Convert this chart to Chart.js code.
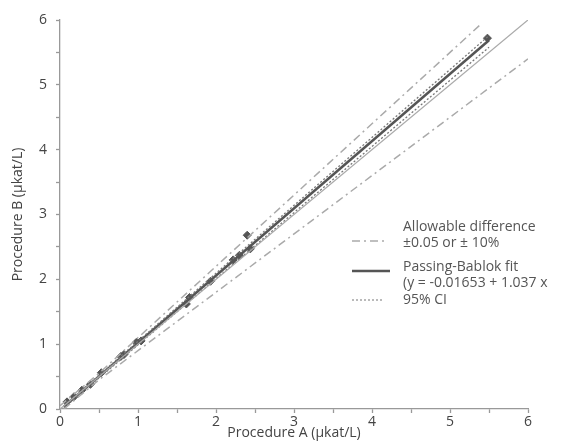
<!DOCTYPE html>
<html>
<head>
<meta charset="utf-8">
<script src="https://cdn.jsdelivr.net/npm/chart.js@4/dist/chart.umd.min.js"></script>
<style>
  html, body { margin: 0; padding: 0; background: #fff; }
  #wrap { width: 569px; height: 441px; }
</style>
</head>
<body>
<div id="wrap"><canvas id="myChart" width="569" height="441"></canvas></div>
<script>
const procA = [0.09, 0.18, 0.28, 0.39, 0.53, 0.78, 0.82, 0.98, 1.04, 1.62, 1.66, 1.93, 2.22, 2.30, 2.40, 2.44, 5.48];
const procB = [0.11, 0.19, 0.29, 0.38, 0.56, 0.81, 0.84, 1.03, 1.05, 1.62, 1.72, 1.97, 2.30, 2.37, 2.68, 2.47, 5.72];

// line end points (x, y)
const identityX = [0, 6];
const identityY = [0, 6];
const upperAllowX = [0, 0.5, 5.4];
const upperAllowY = [0.05, 0.55, 5.94];
const lowerAllowX = [0.05, 0.5, 6];
const lowerAllowY = [0, 0.45, 5.4];
const fitX = [0.05, 5.5];
const fitY = [0.035, 5.687];
const ciUpperX = [0.05, 5.5];
const ciUpperY = [0.05, 5.76];
const ciLowerX = [0.05, 5.5];
const ciLowerY = [0.02, 5.58];

const legendLines = [
  { text: ['Allowable difference', '\u00b10.05 or \u00b1 10%'], dash: [8, 4, 2, 4], color: '#aaa', width: 1.5 },
  { text: ['Passing-Bablok fit', '(y = -0.01653 + 1.037 x'], dash: [], color: '#555', width: 2.5 },
  { text: ['95% CI'], dash: [2, 2], color: '#777', width: 1.2 }
];

const pts = (xs, ys) => xs.map((x, i) => ({ x: x, y: ys[i] }));
const FONT = "'Open Sans', 'Noto Sans', sans-serif";

//--legend drawn on the canvas--//
const legendPlugin = {
  id: 'sideLegend',
  afterDraw(chart) {
    const ctx = chart.ctx;
    ctx.save();
    ctx.font = '14px ' + FONT;
    ctx.fillStyle = '#555';
    ctx.textBaseline = 'middle';
    const tops = [227, 267, 300];
    legendLines.forEach((item, i) => {
      const y0 = tops[i];
      item.text.forEach((t, j) => ctx.fillText(t, 403, y0 + j * 16));
      const ly = item.text.length > 1 ? (i === 0 ? y0 + 14 : y0 + 4) : y0;
      ctx.beginPath();
      ctx.setLineDash(item.dash);
      ctx.strokeStyle = item.color;
      ctx.lineWidth = item.width;
      ctx.moveTo(352, ly);
      ctx.lineTo(i === 1 ? 390 : 384, ly);
      ctx.stroke();
    });
    ctx.restore();
  }
};

const lineSet = (label, data, color, width, dash) => ({
  type: 'line',
  label: label,
  data: data,
  borderColor: color,
  borderWidth: width,
  borderDash: dash,
  pointRadius: 0,
  fill: false,
  tension: 0
});

const tickLabel = v => (Math.abs(v - Math.round(v)) < 1e-6 ? String(Math.round(v)) : '');

new Chart(document.getElementById('myChart').getContext('2d'), {
  type: 'scatter',
  data: {
    datasets: [
      lineSet('Identity', pts(identityX, identityY), '#aaa', 1.3, []),
      lineSet('Upper allowable', pts(upperAllowX, upperAllowY), '#aaa', 1.5, [8, 4, 2, 4]),
      lineSet('Lower allowable', pts(lowerAllowX, lowerAllowY), '#aaa', 1.5, [8, 4, 2, 4]),
      lineSet('CI upper', pts(ciUpperX, ciUpperY), '#777', 1.3, [2, 2]),
      lineSet('CI lower', pts(ciLowerX, ciLowerY), '#777', 1.3, [2, 2]),
      lineSet('Passing-Bablok fit', pts(fitX, fitY), '#555', 2.5, []),
      {
        label: 'Samples',
        data: pts(procA, procB),
        pointStyle: 'rectRot',
        pointRadius: 4,
        backgroundColor: '#555',
        borderColor: '#555',
        borderWidth: 1
      }
    ]
  },
  options: {
    responsive: false,
    animation: false,
    layout: { padding: { top: 20, right: 41, bottom: 0, left: 0 } },
    plugins: { legend: { display: false }, tooltip: { enabled: false } },
    scales: {
      x: {
        type: 'linear',
        min: 0, max: 6,
        afterFit: s => { s.height = 32; },
        border: { color: '#999', width: 1.3 },
        grid: { drawOnChartArea: false, tickLength: 4, color: '#999', tickWidth: 1.3 },
        ticks: { stepSize: 0.5, autoSkip: false, maxRotation: 0, padding: 1, color: '#444', font: { family: FONT, size: 14 }, callback: tickLabel },
        title: { display: true, text: 'Procedure A (\u00b5kat/L)', color: '#444', padding: { top: 0, bottom: 0 }, font: { family: FONT, size: 14 } }
      },
      y: {
        type: 'linear',
        min: 0, max: 6,
        afterFit: s => { s.width = 60; },
        border: { color: '#999', width: 1.3 },
        grid: { drawOnChartArea: false, tickLength: 4, color: '#999', tickWidth: 1.3 },
        ticks: { stepSize: 0.5, autoSkip: false, padding: 9, color: '#444', font: { family: FONT, size: 14 }, callback: tickLabel },
        title: { display: true, text: 'Procedure B (\u00b5kat/L)', color: '#444', padding: { top: 10, bottom: 0 }, font: { family: FONT, size: 14 } }
      }
    }
  },
  plugins: [legendPlugin]
});
</script>
</body>
</html>
